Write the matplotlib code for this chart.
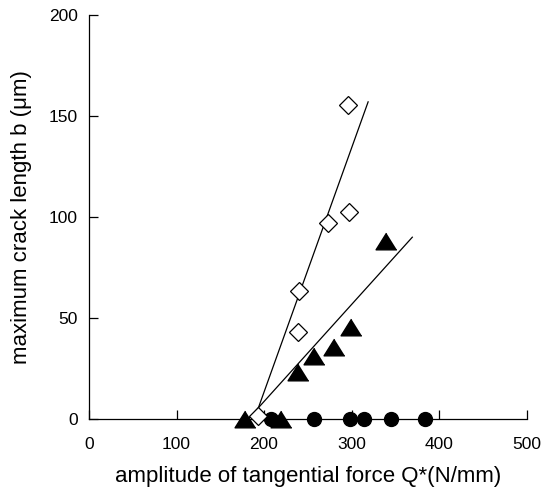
import matplotlib
matplotlib.use("Agg")
import matplotlib.pyplot as plt

plt.rcParams['font.family'] = ['Liberation Sans', 'DejaVu Sans']

# open diamonds
diamond_x = [193.5, 238.5, 240.0, 272.8, 296.8, 296.4]
diamond_y = [1.5, 43.0, 63.2, 97.1, 102.4, 155.5]

# filled triangles
triangle_x = [178, 219, 239, 257.5, 279.6, 299.4, 339.4]
triangle_y = [0, 0, 23.5, 31.3, 35.4, 45.5, 88.0]

# filled circles (no crack)
circle_x = [208, 257, 298, 314, 345, 384]
circle_y = [0, 0, 0, 0, 0, 0]

# fitted lines (end points)
fit_diamond_x = [189, 319]
fit_diamond_y = [0, 157]
fit_triangle_x = [182, 369.5]
fit_triangle_y = [0, 90]

x_ticks = [0, 100, 200, 300, 400, 500]
y_ticks = [0, 50, 100, 150, 200]

fig = plt.figure(figsize=(5.42, 4.95), dpi=100)
ax = fig.add_axes([89 / 542, 1 - 419 / 495, 437.5 / 542, 404 / 495])

ax.plot(fit_diamond_x, fit_diamond_y, color='black', lw=0.9, zorder=2)
ax.plot(fit_triangle_x, fit_triangle_y, color='black', lw=0.9, zorder=2)

tri = [(0, 0.8), (-1, -0.8), (1, -0.8)]
ax.plot(circle_x, circle_y, 'o', ms=10, color='black', zorder=3, clip_on=False)
ax.plot(triangle_x, triangle_y, marker=tri, ls='none', ms=15, color='black',
        zorder=3, clip_on=False)
ax.plot(diamond_x, diamond_y, 'D', ms=9, mfc='white', mec='black', mew=0.9,
        zorder=4, clip_on=False)

ax.set_xlim(0, 500)
ax.set_ylim(0, 200)
ax.set_xticks(x_ticks)
ax.set_yticks(y_ticks)
ax.spines['top'].set_visible(False)
ax.spines['right'].set_visible(False)
for s in ['left', 'bottom']:
    ax.spines[s].set_linewidth(0.9)
ax.tick_params(direction='in', length=6.5, width=0.9, labelsize=12.5)
ax.tick_params(axis='x', pad=13)
ax.tick_params(axis='y', pad=8)

ax.set_xlabel('amplitude of tangential force Q*(N/mm)', fontsize=16, labelpad=10)
ax.set_ylabel('maximum crack length b (\u03bcm)', fontsize=16, labelpad=12)

fig.savefig('out.png', dpi=100)
